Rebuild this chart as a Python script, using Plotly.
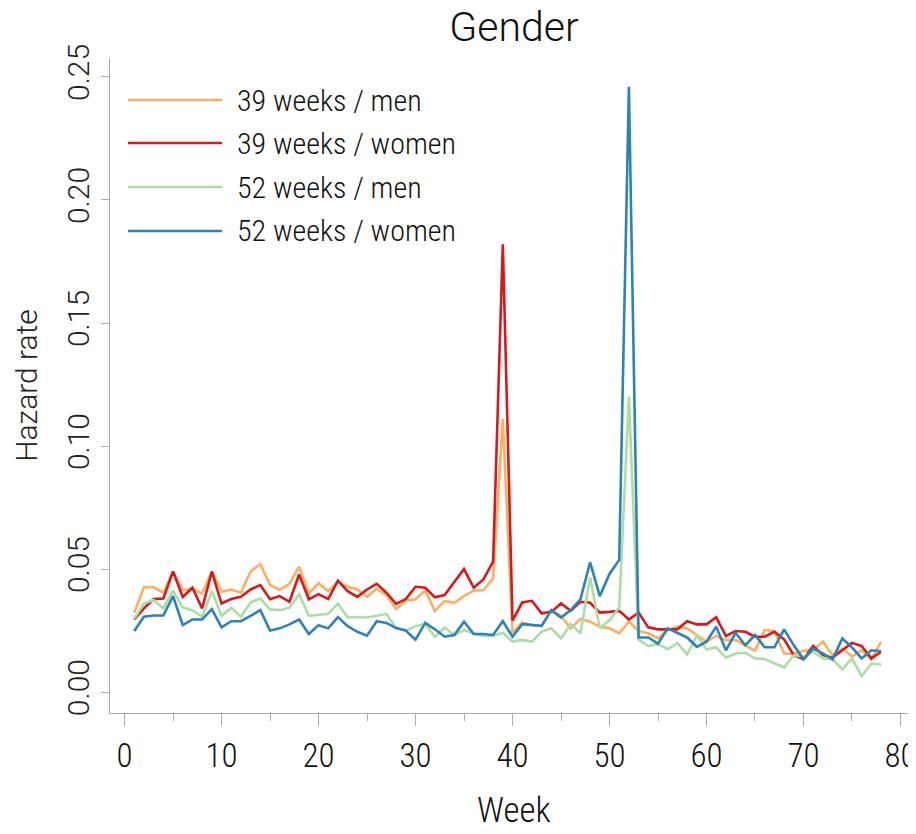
import plotly.graph_objects as go

weeks = list(range(1, 79))

men_39 = [0.0322, 0.0426, 0.0426, 0.0404, 0.0489, 0.0415, 0.0420, 0.0401, 0.0490, 0.0408,
          0.0417, 0.0404, 0.0490, 0.0520, 0.0435, 0.0415, 0.0440, 0.0510, 0.0401, 0.0442,
          0.0410, 0.0448, 0.0428, 0.0417, 0.0387, 0.0420, 0.0394, 0.0337, 0.0371, 0.0377,
          0.0412, 0.0330, 0.0370, 0.0363, 0.0390, 0.0412, 0.0415, 0.0462, 0.1110, 0.0241,
          0.0283, 0.0272, 0.0268, 0.0333, 0.0309, 0.0259, 0.0297, 0.0286, 0.0266, 0.0259,
          0.0239, 0.0286, 0.0248, 0.0239, 0.0218, 0.0252, 0.0266, 0.0259, 0.0232, 0.0205,
          0.0228, 0.0211, 0.0211, 0.0190, 0.0168, 0.0252, 0.0248, 0.0157, 0.0155, 0.0168,
          0.0170, 0.0205, 0.0150, 0.0177, 0.0144, 0.0170, 0.0133, 0.0205]

women_39 = [0.0295, 0.0340, 0.0378, 0.0380, 0.0490, 0.0387, 0.0424, 0.0340, 0.0490, 0.0360,
            0.0378, 0.0387, 0.0417, 0.0435, 0.0377, 0.0390, 0.0367, 0.0478, 0.0377, 0.0398,
            0.0378, 0.0453, 0.0410, 0.0387, 0.0417, 0.0440, 0.0404, 0.0358, 0.0378, 0.0428,
            0.0424, 0.0385, 0.0394, 0.0448, 0.0500, 0.0424, 0.0458, 0.0530, 0.1820, 0.0290,
            0.0364, 0.0371, 0.0320, 0.0326, 0.0360, 0.0330, 0.0367, 0.0363, 0.0323, 0.0326,
            0.0330, 0.0295, 0.0323, 0.0263, 0.0255, 0.0255, 0.0255, 0.0288, 0.0275, 0.0275,
            0.0304, 0.0228, 0.0248, 0.0245, 0.0225, 0.0225, 0.0245, 0.0214, 0.0150, 0.0134,
            0.0187, 0.0150, 0.0140, 0.0170, 0.0200, 0.0187, 0.0137, 0.0164]

men_52 = [0.0298, 0.0360, 0.0374, 0.0340, 0.0412, 0.0344, 0.0333, 0.0306, 0.0410, 0.0310,
          0.0343, 0.0306, 0.0365, 0.0380, 0.0336, 0.0333, 0.0343, 0.0397, 0.0310, 0.0314,
          0.0318, 0.0360, 0.0303, 0.0305, 0.0303, 0.0310, 0.0318, 0.0260, 0.0250, 0.0268,
          0.0277, 0.0225, 0.0263, 0.0232, 0.0252, 0.0238, 0.0228, 0.0229, 0.0241, 0.0205,
          0.0212, 0.0205, 0.0245, 0.0259, 0.0218, 0.0276, 0.0239, 0.0466, 0.0259, 0.0293,
          0.0344, 0.1200, 0.0214, 0.0187, 0.0195, 0.0174, 0.0200, 0.0152, 0.0230, 0.0173,
          0.0182, 0.0140, 0.0157, 0.0160, 0.0137, 0.0134, 0.0116, 0.0100, 0.0150, 0.0144,
          0.0164, 0.0137, 0.0133, 0.0092, 0.0137, 0.0065, 0.0116, 0.0112]

women_52 = [0.0248, 0.0306, 0.0311, 0.0311, 0.0390, 0.0272, 0.0295, 0.0295, 0.0337, 0.0263,
            0.0288, 0.0288, 0.0310, 0.0333, 0.0250, 0.0259, 0.0275, 0.0295, 0.0236, 0.0272,
            0.0259, 0.0305, 0.0268, 0.0245, 0.0229, 0.0288, 0.0281, 0.0260, 0.0250, 0.0213,
            0.0281, 0.0255, 0.0225, 0.0232, 0.0286, 0.0236, 0.0236, 0.0232, 0.0288, 0.0225,
            0.0276, 0.0272, 0.0269, 0.0333, 0.0303, 0.0333, 0.0377, 0.0527, 0.0390, 0.0480,
            0.0537, 0.2460, 0.0222, 0.0222, 0.0197, 0.0259, 0.0239, 0.0222, 0.0184, 0.0205,
            0.0266, 0.0170, 0.0241, 0.0190, 0.0232, 0.0182, 0.0182, 0.0255, 0.0190, 0.0133,
            0.0177, 0.0157, 0.0133, 0.0218, 0.0182, 0.0137, 0.0170, 0.0166]

series_names = ["39 weeks / men", "39 weeks / women", "52 weeks / men", "52 weeks / women"]
series_values = [men_39, women_39, men_52, women_52]
series_colors = ["#fdae61", "#d7191c", "#abdda4", "#2b83ba"]

y_ticks = [0.00, 0.05, 0.10, 0.15, 0.20, 0.25]
x_ticks = [0, 10, 20, 30, 40, 50, 60, 70, 80]

narrow = "Roboto Condensed"
narrow_w = 300
text_col = "#111111"

# page body has an 8px margin; figure sized so the page does not scroll
FIG_W, FIG_H = 908, 818
ML, MR, MT, MB = 102, 0, 50, 113
PW, PH = FIG_W - ML - MR, FIG_H - MT - MB

fig = go.Figure()
for name, vals, col in zip(series_names, series_values, series_colors):
    fig.add_trace(go.Scatter(x=weeks, y=vals, mode="lines", name=name,
                             line=dict(color=col, width=2.6), showlegend=False))

# legend drawn with long line samples (rows in figure pixels)
leg_rows_px = [92, 135, 179, 223]
for name, col, py in zip(series_names, series_colors, leg_rows_px):
    yy = (FIG_H - MB - py) / PH
    fig.add_shape(type="line", xref="paper", yref="paper",
                  x0=(120 - ML) / PW, x1=(214 - ML) / PW, y0=yy, y1=yy,
                  line=dict(color=col, width=2.6))
    fig.add_annotation(xref="paper", yref="paper", x=(227 - ML) / PW, y=yy,
                       text=name, showarrow=False, xanchor="left", yanchor="middle",
                       font=dict(family=narrow, size=30, color=text_col, weight=narrow_w))

# x-axis title placed as text below the tick labels
fig.add_annotation(xref="paper", yref="paper", x=(506 - ML) / PW, y=(FIG_H - MB - 802) / PH,
                   text="Week", showarrow=False, xanchor="center", yanchor="middle",
                   font=dict(family=narrow, size=35, color=text_col, weight=narrow_w))

axis_col = "#aaaaaa"
fig.update_layout(
    width=FIG_W, height=FIG_H,
    margin=dict(l=ML, r=MR, t=MT, b=MB, autoexpand=False),
    paper_bgcolor="white", plot_bgcolor="white",
    title=dict(text="Gender", x=506 / FIG_W, xanchor="center", y=1 - 19 / FIG_H, yanchor="middle",
               font=dict(family="Roboto", size=41, color=text_col, weight=300)),
    xaxis=dict(range=[-1.5, 81.6], tickvals=x_ticks, showgrid=False, zeroline=False,
               showline=True, linecolor=axis_col, linewidth=1, automargin=False,
               ticks="outside", ticklen=12, tickcolor=axis_col, ticklabeloverflow="allow",
               minor=dict(dtick=5, tick0=0, ticks="outside", ticklen=7, tickcolor=axis_col, showgrid=False),
               tickfont=dict(family=narrow, size=33, color=text_col, weight=narrow_w),
               ticklabelstandoff=1),
    yaxis=dict(range=[-0.0085, 0.2577], tickvals=y_ticks, tickformat=".2f", showgrid=False, zeroline=False,
               showline=True, linecolor=axis_col, linewidth=1, automargin=False,
               ticks="outside", ticklen=8, tickcolor=axis_col, tickangle=-90,
               tickfont=dict(family="Roboto", size=30, color="#222", weight=300),
               ticklabelstandoff=0,
               title=dict(text="Hazard rate", font=dict(family="Roboto", size=30, color="#222", weight=300), standoff=14)),
)

fig.write_html("out.html")
